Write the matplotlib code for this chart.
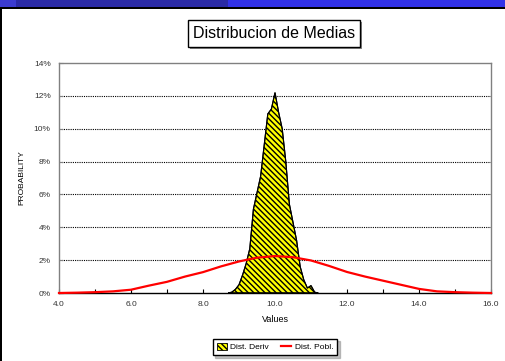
import matplotlib.pyplot as plt
from matplotlib.patches import Patch, Rectangle
from matplotlib.lines import Line2D
from matplotlib.ticker import FuncFormatter, MultipleLocator

plt.rcParams['font.family'] = ['Liberation Sans', 'DejaVu Sans']
plt.rcParams['hatch.linewidth'] = 1.0

# sample means histogram (percent)
deriv_x = [8.7, 8.8, 8.9, 9.0, 9.1, 9.2, 9.3, 9.4, 9.5, 9.6, 9.7, 9.8, 9.9,
           10.0, 10.1, 10.2, 10.3, 10.4, 10.5, 10.6, 10.7, 10.8, 10.9, 11.0, 11.1, 11.2]
deriv_y = [0.0, 0.05, 0.22, 0.5, 1.1, 1.8, 2.7, 5.1, 6.1, 7.1, 9.0, 10.9, 11.2,
           12.2, 11.0, 10.0, 8.0, 5.4, 4.3, 3.2, 1.6, 0.8, 0.3, 0.45, 0.05, 0.0]

# population distribution (percent)
pobl_x = [4.0, 4.5, 5.0, 5.5, 6.0, 6.5, 7.0, 7.5, 8.0, 8.5, 9.0, 9.5, 10.0,
          10.5, 11.0, 11.5, 12.0, 12.5, 13.0, 13.5, 14.0, 14.5, 15.0, 15.5, 16.0]
pobl_y = [0.0, 0.02, 0.05, 0.1, 0.2, 0.45, 0.68, 1.0, 1.27, 1.62, 1.92, 2.15, 2.25,
          2.18, 1.98, 1.65, 1.28, 1.0, 0.75, 0.5, 0.25, 0.1, 0.05, 0.02, 0.0]

HATCH = '\\' * 6

W, H = 505, 361
fig = plt.figure(figsize=(5.05, 3.61), dpi=100)
fig.patch.set_facecolor('white')


def px_rect(x0, y0, x1, y1, **kw):
    # rectangle in picture pixels, measured from the top-left corner
    r = Rectangle((x0 / W, 1 - y1 / H), (x1 - x0) / W, (y1 - y0) / H,
                  transform=fig.transFigure, **kw)
    fig.patches.append(r)
    return r


# window frame bits from the screenshot
px_rect(0, 0, 16, 7, facecolor='#3b3bd0', edgecolor='none')
px_rect(16, 0, 228, 7, facecolor='#2a2aa6', edgecolor='none')
px_rect(228, 0, 505, 7, facecolor='#3232e8', edgecolor='none')
px_rect(0, 7, 505, 9, facecolor='black', edgecolor='none')
px_rect(0, 9, 2, 361, facecolor='black', edgecolor='none')

ax = fig.add_axes([59 / W, 1 - 293 / H, 432 / W, 230 / H])
ax.set_xlim(4, 16)
ax.set_ylim(0, 14)

for v in range(2, 14, 2):
    ax.axhline(v, color='black', linestyle=(0, (1, 1)), linewidth=0.8, zorder=1)

ax.fill(deriv_x, deriv_y, facecolor='#ffff00', edgecolor='black', hatch=HATCH,
        linewidth=0.8, zorder=2)
ax.fill(deriv_x, deriv_y, facecolor='none', edgecolor='black', linewidth=0.8, zorder=3)
ax.plot(pobl_x, pobl_y, color='red', linewidth=1.6, zorder=4, clip_on=False)

for s in ['left', 'top', 'right']:
    ax.spines[s].set_color('#808080')
    ax.spines[s].set_linewidth(1.0)
ax.spines['bottom'].set_color('black')
ax.spines['bottom'].set_linewidth(1.0)

ax.xaxis.set_major_locator(MultipleLocator(2))
ax.xaxis.set_minor_locator(MultipleLocator(1))
ax.xaxis.set_major_formatter(FuncFormatter(lambda v, p: f"{v:.1f}"))
ax.yaxis.set_major_locator(MultipleLocator(2))
ax.yaxis.set_major_formatter(FuncFormatter(lambda v, p: f"{v:.0f}%"))
ax.tick_params(axis='x', which='both', direction='in', length=3, width=0.8, labelsize=6,
               colors='black', labelcolor='#333333', pad=6)
ax.tick_params(axis='y', direction='in', length=3, width=0.8, labelsize=6,
               colors='#808080', labelcolor='#333333', pad=6)

ax.set_xlabel('Values', fontsize=6.5, labelpad=5)
fig.text(22 / W, 1 - 178 / H, 'PROBABILITY', fontsize=6, rotation=90,
         ha='center', va='center')

# title box with shadow
px_rect(190, 22, 362, 49, facecolor='#888888', edgecolor='none')
px_rect(188, 20, 360, 47, facecolor='white', edgecolor='black', linewidth=1)
fig.text(274 / W, 1 - 33.5 / H, 'Distribucion de Medias', fontsize=11.5, color='black',
         ha='center', va='center')

handles = [Patch(facecolor='#ffff00', edgecolor='black', hatch=HATCH, linewidth=0.6),
           Line2D([], [], color='red', linewidth=1.6)]
leg = fig.legend(handles, ['Dist. Deriv', 'Dist. Pobl.'], loc='center',
                 bbox_to_anchor=(275 / W, 1 - 347 / H), ncol=2, fontsize=6,
                 frameon=True, fancybox=False, shadow={'ox': 2, 'oy': -2, 'color': '#888888'},
                 handlelength=1.2, handleheight=0.9, handletextpad=0.4, columnspacing=1.5,
                 borderpad=0.5)
leg.get_frame().set_edgecolor('black')
leg.get_frame().set_linewidth(1.0)

fig.savefig('out.png', dpi=100)
